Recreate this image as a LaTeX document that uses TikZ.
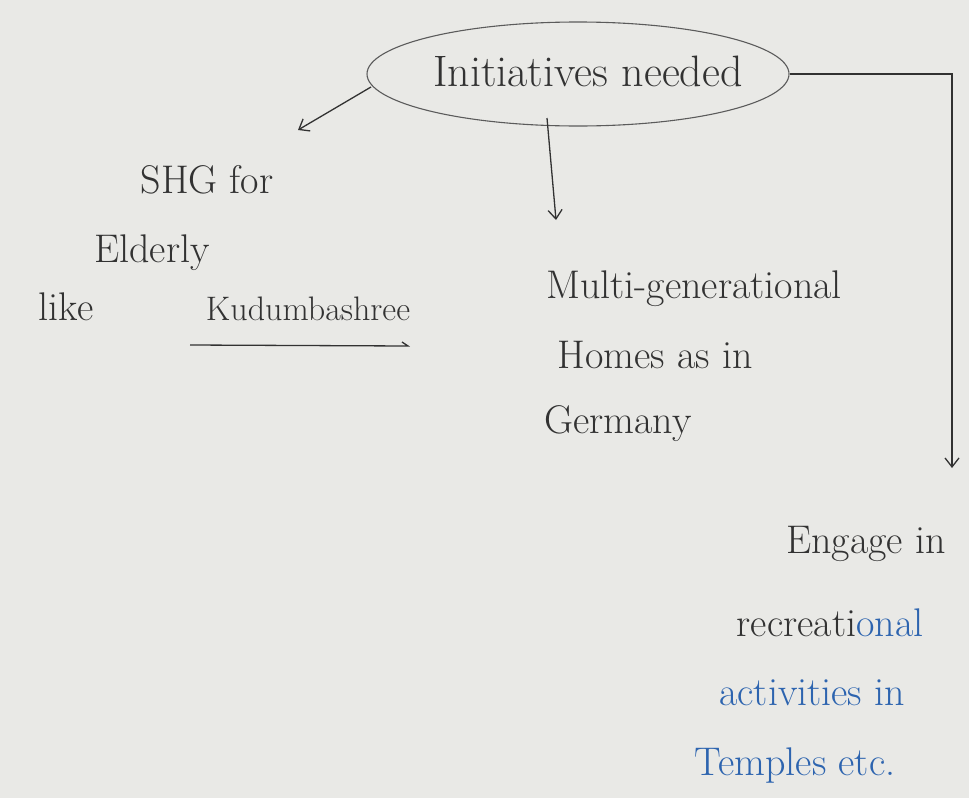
\documentclass[tikz,border=0pt]{standalone}
\usetikzlibrary{arrows.meta,shapes.geometric}
\definecolor{paper}{RGB}{233,233,230}
\definecolor{pencil}{RGB}{50,50,50}
\definecolor{ink}{RGB}{45,100,175}
\begin{document}
\begin{tikzpicture}[x=1pt,y=-1pt,
  txt/.style={font=\fontsize{40}{48}\selectfont, text=pencil, inner sep=0pt, anchor=base},
  small/.style={font=\fontsize{34}{40}\selectfont},
  conn/.style={draw=pencil, line width=1.3pt, -{Straight Barb[length=9pt,width=14pt]}},
  bubble/.style={ellipse, draw=pencil!80, line width=1.1pt, minimum width=422pt, minimum height=104pt, inner sep=0pt}]
\fill[paper] (0,0) rectangle (969,798);
\useasboundingbox (0,0) rectangle (969,798);

% central idea
\node[bubble] (ell) at (578,74) {};
\node[txt, font=\fontsize{44}{50}\selectfont] (init) at (588,86) {Initiatives needed};

% left branch
\node[txt] (shg) at (207,193) {SHG for};
\node[txt] (eld) at (152,262) {Elderly};
\node[txt] (like) at (66,320) {like};
\node[txt, small] (kud) at (308,320) {Kudumbashree};
\draw[pencil, line width=1.3pt] (190,345) -- (408,346) -- (402,342);

% middle branch
\node[txt] (multi) at (694,298) {Multi-generational};
\node[txt] (homes) at (655,368) {Homes as in};
\node[txt] (germ) at (618,433) {Germany};

% right branch
\node[txt] (eng) at (866,553) {Engage in};
\node[txt] (recr) at (830,636) {recreati\textcolor{ink}{onal}};
\node[txt, text=ink] (act) at (812,705) {activities in};
\node[txt, text=ink] (temp) at (795,775) {Temples etc.};

% connector end points
\coordinate (a1s) at (371,87);
\coordinate (a1e) at (298,130);
\coordinate (a2s) at (547,118);
\coordinate (a2e) at (556,220);
\coordinate (a3e) at (952,468);

\draw[conn] (a1s) -- (a1e);
\draw[conn] (a2s) -- (a2e);
\draw[conn] (ell.east) -| (a3e);
\end{tikzpicture}
\end{document}
